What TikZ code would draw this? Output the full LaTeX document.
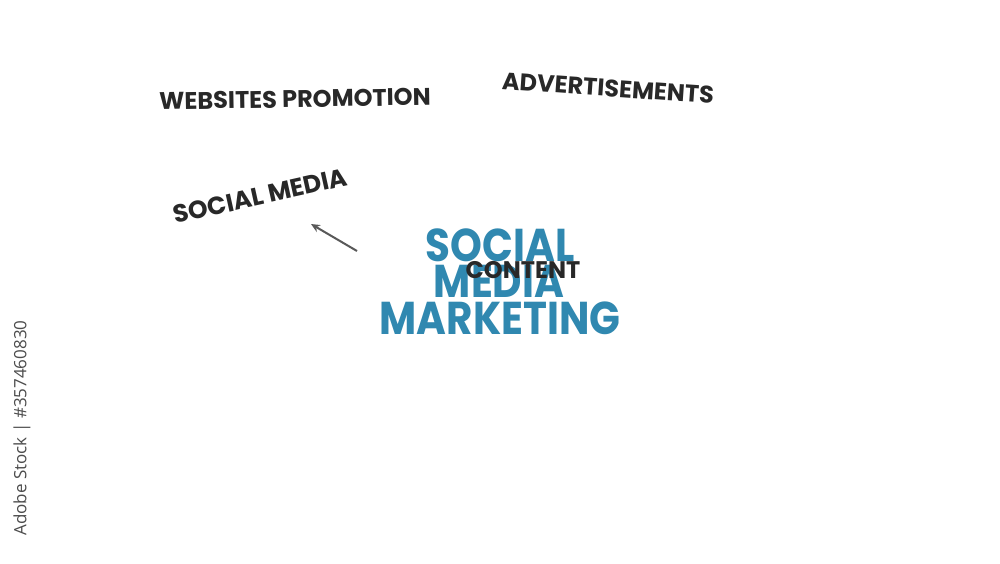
\documentclass[tikz,border=0pt]{standalone}
\usepackage{fontspec}
\usetikzlibrary{arrows.meta}
\setmainfont{Poppins}
\newfontfamily\stockfont{Open Sans}
\definecolor{smmblue}{RGB}{48,136,176}
\definecolor{inkgray}{RGB}{40,40,40}
\begin{document}
\begin{tikzpicture}[
    x=1pt, y=-1pt,
    word/.style={
        text=inkgray,
        inner sep=0pt,
        font=\fontsize{24}{24}\selectfont\bfseries,
    },
    title/.style={
        text=smmblue,
        inner sep=0pt,
        xscale=0.88,
        font=\fontsize{46}{46}\selectfont\bfseries,
    },
]
    \useasboundingbox[fill=white] (0,0) rectangle (1000,563);

    \node[word] (web) at (295,99) [rotate=1] {WEBSITES PROMOTION};
    \node[word] (adv) at (608,88) [rotate=-4] {ADVERTISEMENTS};
    \node[word, font=\fontsize{25}{25}\selectfont\bfseries]
        (sm) at (260,196) [rotate=12.5] {SOCIAL MEDIA};

    \node[title] (t1) at (500,245) {SOCIAL};
    \node[title] (t2) at (499,281) {MEDIA};
    \node[title] (t3) at (500,318) {MARKETING};
    \node[word]  (ct) at (523,270) {CONTENT};

    \coordinate (tail) at (357,251);
    \coordinate (head) at (311,224);
    \draw[-{Stealth[length=9pt,width=8pt]}, gray!70!black, line width=2pt]
        (tail) -- (head);

    \node[text=gray!60!black, inner sep=0pt, rotate=90,
          font=\stockfont\fontsize{17}{17}\selectfont] (stock) at (22,428)
        {Adobe Stock | \#357460830};
\end{tikzpicture}
\end{document}
